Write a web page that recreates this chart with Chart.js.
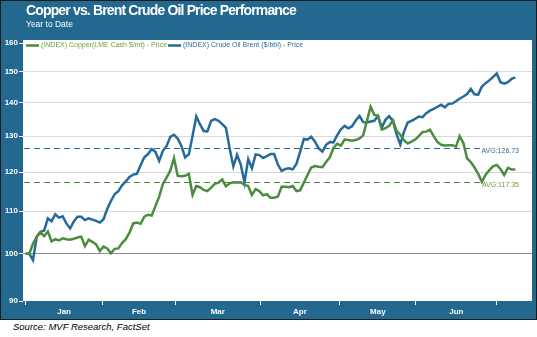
<!DOCTYPE html>
<html><head><meta charset="utf-8">
<script src="https://cdn.jsdelivr.net/npm/chart.js@4.4.0/dist/chart.umd.min.js"></script>
<style>
html,body{margin:0;padding:0;background:#fff;width:537px;height:337px;overflow:hidden;font-family:"Liberation Sans",Arial,sans-serif;}
#frame{position:absolute;left:0;top:0;width:535px;height:318px;background:#22688f;border:1px solid #1b1b1b;}
#wrap{position:absolute;left:0;top:0;width:537px;height:320px;}
#title{position:absolute;left:26px;top:2px;color:#fff;font-weight:bold;font-size:14px;letter-spacing:-0.85px;white-space:nowrap;}
#subtitle{position:absolute;left:26px;top:19px;color:#fff;font-size:8.5px;white-space:nowrap;}
#source{position:absolute;left:13px;top:321px;font-style:italic;font-size:9.5px;color:#000;white-space:nowrap;letter-spacing:0px;}
</style></head>
<body>
<div id="frame"></div>
<div id="wrap"><canvas id="c" width="537" height="320"></canvas></div>
<div id="title">Copper vs. Brent Crude Oil Price Performance</div>
<div id="subtitle">Year to Date</div>
<div id="source">Source: MVF Research, FactSet</div>
<script>
// ---- data (indexed to 100, trading days year to date) ----
const seriesNames = ["(INDEX) Copper(LME Cash $/mt) - Price", "(INDEX) Crude Oil Brent ($/bbl) - Price"];
const copper = [100,100,102.3,103.8,104.9,104.0,105.1,102.8,103.3,103.0,
 103.5,103.3,103.2,103.4,103.7,103.9,101.7,103.2,102.7,102.1,
 100.6,101.6,101.2,100.1,101.1,101.2,102.4,103.3,104.8,107.0,
 107.2,106.9,108.6,109.1,108.9,111.2,113.6,116.8,118.5,120.4,
 123.8,119.0,118.9,119.0,119.5,114.0,116.3,116.0,115.3,115.0,
 115.9,116.9,117.2,118.0,116.2,117.0,117.3,117.2,117.3,116.6,
 116.3,114.0,115.5,115.0,113.9,114.2,113.3,113.3,113.6,116.1,
 116.1,116.0,116.3,115.0,115.2,117.2,119.2,121.2,121.6,121.4,
 121.3,122.7,124.0,126.6,127.8,127.3,129.0,128.9,128.7,128.9,
 129.3,130.2,134.5,138.8,136.3,136.0,131.9,132.3,133.0,134.7,
 131.5,130.4,128.8,127.9,128.4,129.0,130.0,131.2,131.3,131.9,
 130.0,128.3,127.5,127.3,127.4,127.4,127.0,130.0,128.0,123.7,
 122.7,121.2,119.5,117.4,119.3,120.5,121.5,121.9,120.8,119.2,
 121.1,120.7,120.7];
const brent = [100,100,98.6,103.9,105,105.3,108.2,107.5,109.2,108.4,
 108.7,107.0,105.8,107.5,108.6,108.6,107.8,108.2,107.9,107.6,
 107.2,108.0,110.5,112.5,114.2,115.0,116.5,117.5,118.7,119.3,
 119.5,121.8,124.0,124.9,126.3,125.5,123.0,125.8,127.1,129.8,
 130.4,129.3,127.2,124.0,124.8,130.0,135.8,133.5,131.5,131.4,
 134.5,135.0,134.5,133.5,132.4,126.5,121.5,124.7,122.0,117.2,
 123.5,121.0,124.8,124.6,123.8,124.3,124.9,124.9,122.0,120.3,
 120.8,121.0,120.7,122.2,125.5,129.2,129.0,129.8,128.4,126.5,
 125.6,127.5,128.3,128.2,130.3,132.0,133.0,132.3,132.9,134.6,
 136.0,134.1,134.0,134.3,134.5,136.0,132.5,134.8,135.9,134.5,
 130.5,127.6,131.3,134.0,134.5,135.1,135.8,135.6,136.8,137.6,
 138.1,138.8,139.4,138.6,139.7,139.8,140.5,141.3,142.0,142.8,
 144.4,142.7,142.6,145.2,146.3,147.2,148.3,149.5,146.6,146.1,
 146.6,147.7,148.2];
const averages = [117.35, 126.73]; // copper, brent
const months = ["Jan","Feb","Mar","Apr","May","Jun"];
const monthStarts = [0, 20.75, 40.4, 63.2, 84.7, 105.2, 127]; // trading-day positions of month boundaries
const yTicks = [90,100,110,120,130,140,150,160];

const colors = ["#4c8c3e", "#246a9b"];
const textColors = ["#6c9e3a", "#2c6ea0"];
const FONT = "'Liberation Sans', Arial, sans-serif";

const days = copper.map((_, i) => i);
const monthMids = months.map((_, k) => (monthStarts[k] + monthStarts[k + 1]) / 2);
const xTickVals = [...monthStarts, ...monthMids].sort((a, b) => a - b);

const decor = {
  id: 'decor',
  beforeDraw(chart) {
    const {ctx, chartArea: a} = chart;
    ctx.save();
    ctx.fillStyle = '#fff';
    ctx.fillRect(a.left, a.top - 3, a.right - a.left, a.bottom - a.top + 3);
    ctx.restore();
  },
  beforeDatasetsDraw(chart) {
    const {ctx, chartArea: a, scales: {y}} = chart;
    ctx.save();
    ctx.font = "7px " + FONT;
    averages.forEach((v, k) => {
      const py = Math.round(y.getPixelForValue(v)) + 0.5;
      const label = "AVG:" + v.toFixed(2);
      const w = ctx.measureText(label).width;
      const rx = a.right - 13;
      ctx.strokeStyle = colors[k];
      ctx.lineWidth = 1.2;
      ctx.setLineDash([6, 4]);
      ctx.beginPath();
      ctx.moveTo(a.left + 1, py);
      ctx.lineTo(rx - w - 1, py);
      ctx.stroke();
      ctx.setLineDash([]);
      ctx.fillStyle = textColors[k];
      ctx.textAlign = 'right';
      ctx.textBaseline = 'top';
      ctx.fillText(label, rx, py - 0.5);
    });
    ctx.restore();
  },
  afterDraw(chart) {
    const {ctx, chartArea: a} = chart;
    ctx.save();
    ctx.font = "7px " + FONT;
    ctx.textBaseline = 'middle';
    let x = a.left + 3;
    const yy = a.top + 2.5;
    seriesNames.forEach((name, k) => {
      ctx.strokeStyle = colors[k];
      ctx.lineWidth = 2.5;
      ctx.beginPath();
      ctx.moveTo(x, yy);
      ctx.lineTo(x + 13, yy);
      ctx.stroke();
      x += 15;
      ctx.fillStyle = textColors[k];
      ctx.fillText(name, x, yy);
      x += ctx.measureText(name).width + 1;
    });
    ctx.restore();
  }
};

new Chart(document.getElementById('c'), {
  type: 'line',
  data: {
    datasets: [
      {label: seriesNames[0], data: days.map(i => ({x: i, y: copper[i]})), borderColor: colors[0], borderWidth: 2.5, pointRadius: 0, tension: 0, fill: false},
      {label: seriesNames[1], data: days.map(i => ({x: i, y: brent[i]})), borderColor: colors[1], borderWidth: 2.5, pointRadius: 0, tension: 0, fill: false}
    ]
  },
  options: {
    responsive: false,
    animation: false,
    devicePixelRatio: 1,
    layout: {padding: {left: 0, right: 5, top: 43, bottom: 0}},
    plugins: {legend: {display: false}, tooltip: {enabled: false}},
    scales: {
      x: {
        type: 'linear', min: -0.7, max: 136.5,
        afterBuildTicks: s => { s.ticks = xTickVals.map(v => ({value: v})); },
        afterFit: s => { s.height = 19; },
        ticks: {
          color: '#fff', autoSkip: false, maxRotation: 0, padding: 2,
          font: {family: FONT, size: 8, weight: 'bold'},
          callback: v => { const k = monthMids.indexOf(v); return k >= 0 ? months[k] : ''; }
        },
        grid: {
          drawOnChartArea: false, tickLength: 4, lineWidth: 1,
          tickColor: c => (c.tick && monthStarts.includes(c.tick.value)) ? '#ffffff' : 'rgba(0,0,0,0)',
          color: 'rgba(0,0,0,0)'
        },
        border: {display: false}
      },
      y: {
        type: 'logarithmic', min: 90, max: 160,
        afterBuildTicks: s => { s.ticks = yTicks.map(v => ({value: v})); },
        afterFit: s => { s.width = 23; },
        ticks: {
          color: '#fff', autoSkip: false, padding: 1,
          font: {family: FONT, size: 8, weight: 'bold'},
          callback: v => String(v)
        },
        grid: {
          tickLength: 4, lineWidth: 1, tickColor: '#ffffff',
          color: c => {
            const v = c.tick ? c.tick.value : 0;
            if (v === 100) return '#8c8c8c';
            if (v === 90 || v === 160) return 'rgba(0,0,0,0)';
            return '#d9d9d9';
          }
        },
        border: {display: false}
      }
    }
  },
  plugins: [decor]
});
</script>
</body></html>
